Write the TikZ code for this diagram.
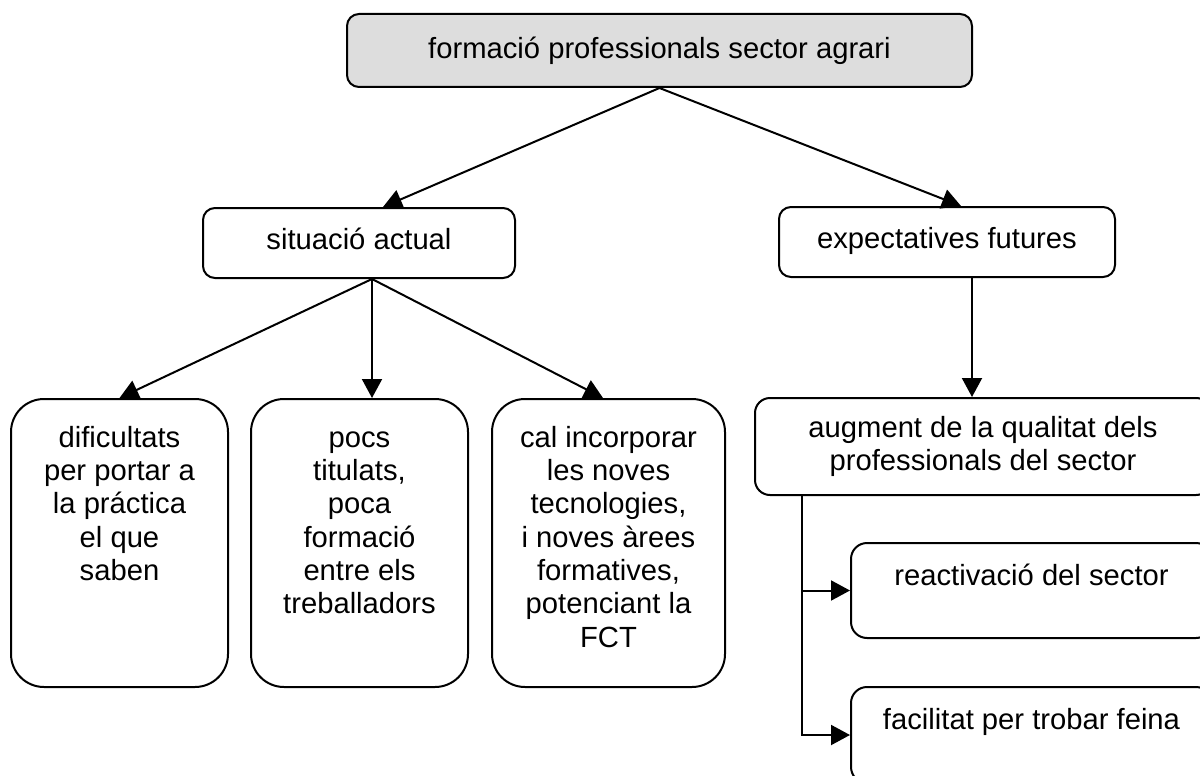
\documentclass[tikz,border=0pt]{standalone}
\usepackage{fontspec}
\setmainfont{Liberation Sans}
\usetikzlibrary{positioning,arrows.meta,calc}
\definecolor{titlegray}{RGB}{221,221,221}
\newcommand{\diagfont}{\fontsize{29.2pt}{33.3pt}\selectfont}
% width, height, top gap, text
\newcommand{\topbox}[4]{\parbox[c][#2][t]{#1}{\centering\vspace*{#3}\strut #4\par}}

\begin{document}
\begin{tikzpicture}[
    x=1pt, y=-1pt,
    every node/.style={font=\diagfont, inner sep=0pt},
    head/.style={draw, fill=titlegray, line width=2pt, rounded corners=12pt, minimum width=625pt, minimum height=73pt, text height=23pt, text depth=6pt},
    branch/.style={draw, line width=2pt, rounded corners=12pt, minimum height=70pt, text height=21pt, text depth=8pt},
    tall/.style={draw, line width=2pt, rounded corners=33pt},
    wide/.style={draw, line width=2pt, rounded corners=16pt, align=center},
    arr/.style={-{Triangle[length=19pt,width=20pt]}, line width=2pt}
]
\useasboundingbox (0,0) rectangle (1200,776);
\node[head] (head) at (659.5,50.5) {formació professionals sector agrari};
\node[branch, minimum width=312pt] (sit) at (359,243) {situació actual};
\node[branch, minimum width=336pt] (exp) at (947,242) {expectatives futures};
% situacio actual
\node[tall] (dif) at (119.5,543) {\topbox{217pt}{288pt}{25pt}{dificultats\\per portar a\\la práctica\\el que\\saben}};
\node[tall, right=21pt of dif] (pocs) {\topbox{217pt}{288pt}{25pt}{pocs\\titulats,\\poca\\formació\\entre els\\treballadors}};
\node[tall, right=22pt of pocs] (cal) {\topbox{233pt}{288pt}{25pt}{cal incorporar\\les noves\\tecnologies,\\i noves àrees\\formatives,\\potenciant la\\FCT}};
% expectatives futures
\node[wide, minimum width=456pt, minimum height=97pt, rounded corners=15pt] (aug) at (983,446.5) {augment de la qualitat dels\\professionals del sector};
\node[wide] (reac) at (1031.5,590.5) {\topbox{361pt}{95pt}{19pt}{reactivació del sector}};
\node[wide] (fac) at (1031.5,735) {\topbox{361pt}{96pt}{19pt}{facilitat per trobar feina}};

\draw[arr] (head.south) -- ([xshift=24pt]sit.north);
\draw[arr] (head.south) -- ([xshift=14pt]exp.north);
\foreach \b/\s in {dif/0pt, pocs/12.5pt, cal/-5.5pt}
    \draw[arr] ([xshift=13pt]sit.south) -- ([xshift=\s]\b.north);
\draw[arr] ([xshift=25pt]exp.south) -- ([xshift=25pt]exp.south |- aug.north);
\coordinate (trunk) at ([xshift=48pt]aug.south west);
\draw[arr] (trunk) |- (fac.west);
\draw[arr] (trunk |- reac.west) -- (reac.west);
\end{tikzpicture}
\end{document}
